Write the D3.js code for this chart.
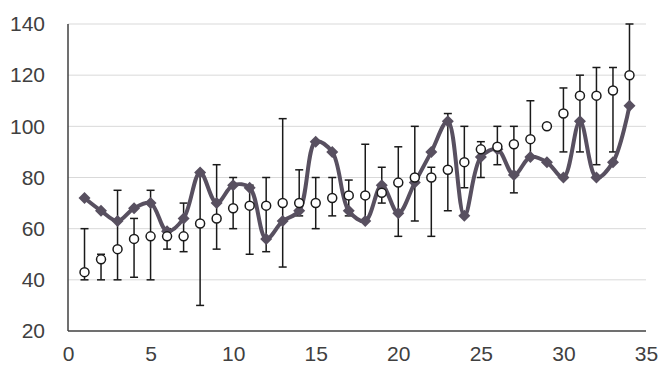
<!DOCTYPE html>
<html><head><meta charset="utf-8">
<script src="https://cdn.jsdelivr.net/npm/d3@7"></script>
<style>body{margin:0;background:#fff;} svg{display:block;}</style>
</head><body>
<svg id="c" width="660" height="367"></svg>
<script>
const xs = [1,2,3,4,5,6,7,8,9,10,11,12,13,14,15,16,17,18,19,20,21,22,23,24,25,26,27,28,29,30,31,32,33,34];
const lineVals = [72,67,63,68,70,59,64,82,70,77,76,56,63,67,94,90,67,63,77,66,78,90,102,65,88,91,81,88,86,80,102,80,86,108];
const circVals = [43,48,52,56,57,57,57,62,64,68,69,69,70,70,70,72,73,73,74,78,80,80,83,86,91,92,93,95,100,105,112,112,114,120];
const errHigh = [60,50,75,64,75,60,70,82,85,80,77,80,103,83,80,80,79,93,84,92,100,84,105,100,94,100,100,110,100,115,120,123,123,140];
const errLow  = [40,40,40,41,40,52,51,30,52,60,50,51,45,65,60,65,65,63,70,57,63,57,67,76,80,85,74,88,100,90,90,85,90,108];
const xTicks = [0,5,10,15,20,25,30,35];
const yTicks = [20,40,60,80,100,120,140];

const svg = d3.select("#c");
const x = d3.scaleLinear().domain([0,35]).range([68,646]);
const y = d3.scaleLinear().domain([20,140]).range([331,24]);

// gridlines
svg.append("g").selectAll("line").data(yTicks.filter(d=>d>20)).join("line")
  .attr("x1",x(0)).attr("x2",x(35)).attr("y1",d=>y(d)).attr("y2",d=>y(d))
  .attr("stroke","#d9d9d9").attr("stroke-width",1);

// axes
const yAxis = d3.axisLeft(y).tickValues(yTicks).tickSize(0).tickPadding(23);
const gy = svg.append("g").attr("transform",`translate(${x(0)},0)`).call(yAxis);
const xAxis = d3.axisBottom(x).tickValues(xTicks).tickSize(0).tickPadding(15);
const gx = svg.append("g").attr("transform",`translate(0,${y(20)})`).call(xAxis);
[gx,gy].forEach(g=>{
  g.select(".domain").remove();
  g.selectAll("text").attr("font-family","'Liberation Sans', Arial, sans-serif")
   .attr("font-size",21).attr("fill","#404040");
});
svg.append("line").attr("x1",x(0)).attr("x2",x(0)).attr("y1",y(140)).attr("y2",y(20))
  .attr("stroke","#404040").attr("stroke-width",1.5);
svg.append("line").attr("x1",x(0)).attr("x2",x(35)).attr("y1",y(20)).attr("y2",y(20))
  .attr("stroke","#404040").attr("stroke-width",1.5);

// error bars
const eb = svg.append("g").attr("stroke","#1a1a1a").attr("stroke-width",1.5);
xs.forEach((d,i)=>{
  if (errHigh[i]===errLow[i]) return;
  eb.append("line").attr("x1",x(d)).attr("x2",x(d)).attr("y1",y(errHigh[i])).attr("y2",y(errLow[i]));
  eb.append("line").attr("x1",x(d)-4).attr("x2",x(d)+4).attr("y1",y(errHigh[i])).attr("y2",y(errHigh[i]));
  eb.append("line").attr("x1",x(d)-4).attr("x2",x(d)+4).attr("y1",y(errLow[i])).attr("y2",y(errLow[i]));
});

// smoothed line
const col = "#585060";
const line = d3.line().x((d,i)=>x(xs[i])).y(d=>y(d)).curve(d3.curveCatmullRom.alpha(0.5));
svg.append("path").datum(lineVals).attr("d",line).attr("fill","none")
  .attr("stroke",col).attr("stroke-width",4);
svg.append("g").selectAll("path").data(lineVals).join("path")
  .attr("d",d3.symbol(d3.symbolSquare,72)())
  .attr("transform",(d,i)=>`translate(${x(xs[i])},${y(d)}) rotate(45)`)
  .attr("fill",col);

// circles
svg.append("g").selectAll("circle").data(circVals).join("circle")
  .attr("cx",(d,i)=>x(xs[i])).attr("cy",d=>y(d)).attr("r",4.5)
  .attr("fill","#fff").attr("stroke","#1a1a1a").attr("stroke-width",1.5);
</script>
</body></html>
